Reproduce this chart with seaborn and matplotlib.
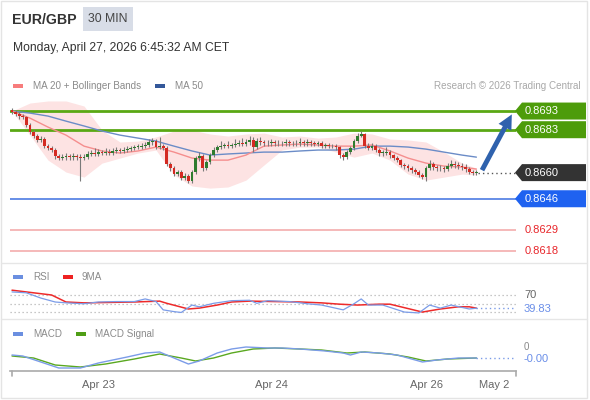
import numpy as np
import pandas as pd
import matplotlib
matplotlib.use("Agg")
import matplotlib.pyplot as plt
import seaborn as sns
from matplotlib.patches import Polygon, Rectangle, FancyArrowPatch
from matplotlib.lines import Line2D

# ---------------- data ----------------
close = [
    0.86925, 0.86914, 0.86903, 0.86898, 0.86855, 0.86818, 0.86796, 0.86775, 0.86780, 0.86742,
    0.86732, 0.86721, 0.86689, 0.86678, 0.86683, 0.86689, 0.86683, 0.86689, 0.86683, 0.86678,
    0.86683, 0.86700, 0.86705, 0.86700, 0.86710, 0.86705, 0.86710, 0.86705, 0.86716, 0.86721,
    0.86716, 0.86721, 0.86726, 0.86732, 0.86737, 0.86737, 0.86742, 0.86748, 0.86764, 0.86769,
    0.86737, 0.86742, 0.86732, 0.86646, 0.86624, 0.86592, 0.86603, 0.86571, 0.86582, 0.86555,
    0.86603, 0.86678, 0.86689, 0.86624, 0.86657, 0.86694, 0.86721, 0.86737, 0.86742, 0.86748,
    0.86742, 0.86748, 0.86753, 0.86758, 0.86753, 0.86764, 0.86775, 0.86737, 0.86769, 0.86764,
    0.86758, 0.86758, 0.86764, 0.86758, 0.86758, 0.86758, 0.86764, 0.86758, 0.86758, 0.86758,
    0.86764, 0.86758, 0.86764, 0.86758, 0.86753, 0.86758, 0.86742, 0.86748, 0.86742, 0.86742,
    0.86737, 0.86694, 0.86683, 0.86710, 0.86732, 0.86769, 0.86796, 0.86807, 0.86742, 0.86732,
    0.86742, 0.86721, 0.86705, 0.86705, 0.86710, 0.86694, 0.86678, 0.86667, 0.86641, 0.86635,
    0.86624, 0.86614, 0.86603, 0.86587, 0.86576, 0.86624, 0.86646, 0.86630, 0.86624, 0.86624,
    0.86619, 0.86635, 0.86646, 0.86641, 0.86635, 0.86630, 0.86619, 0.86603, 0.86598, 0.86600,
]
first_open = 0.86935
high = [
    0.86945, 0.86935, 0.86925, 0.86915, 0.86905, 0.86865, 0.86830, 0.86805, 0.86795, 0.86790,
    0.86755, 0.86745, 0.86730, 0.86700, 0.86700, 0.86705, 0.86700, 0.86705, 0.86700, 0.86700,
    0.86700, 0.86715, 0.86720, 0.86730, 0.86725, 0.86720, 0.86730, 0.86725, 0.86730, 0.86735,
    0.86730, 0.86735, 0.86740, 0.86745, 0.86750, 0.86755, 0.86760, 0.86765, 0.86780, 0.86785,
    0.86780, 0.86790, 0.86755, 0.86740, 0.86655, 0.86635, 0.86615, 0.86615, 0.86600, 0.86590,
    0.86615, 0.86690, 0.86710, 0.86700, 0.86670, 0.86705, 0.86735, 0.86750, 0.86770, 0.86760,
    0.86770, 0.86760, 0.86780, 0.86775, 0.86785, 0.86780, 0.86795, 0.86790, 0.86785, 0.86790,
    0.86775, 0.86775, 0.86780, 0.86775, 0.86775, 0.86770, 0.86780, 0.86775, 0.86770, 0.86775,
    0.86785, 0.86775, 0.86780, 0.86775, 0.86770, 0.86770, 0.86770, 0.86760, 0.86760, 0.86755,
    0.86755, 0.86745, 0.86705, 0.86720, 0.86745, 0.86780, 0.86810, 0.86825, 0.86815, 0.86760,
    0.86760, 0.86755, 0.86730, 0.86720, 0.86735, 0.86720, 0.86700, 0.86690, 0.86675, 0.86650,
    0.86645, 0.86635, 0.86625, 0.86615, 0.86600, 0.86635, 0.86665, 0.86655, 0.86640, 0.86640,
    0.86635, 0.86650, 0.86665, 0.86660, 0.86655, 0.86650, 0.86645, 0.86630, 0.86615, 0.86615,
]
low = [
    0.86915, 0.86905, 0.86890, 0.86885, 0.86845, 0.86805, 0.86785, 0.86765, 0.86765, 0.86730,
    0.86720, 0.86710, 0.86675, 0.86665, 0.86665, 0.86670, 0.86670, 0.86670, 0.86670, 0.86555,
    0.86665, 0.86675, 0.86690, 0.86690, 0.86690, 0.86695, 0.86695, 0.86695, 0.86695, 0.86705,
    0.86705, 0.86705, 0.86710, 0.86715, 0.86720, 0.86725, 0.86725, 0.86730, 0.86735, 0.86750,
    0.86725, 0.86725, 0.86720, 0.86635, 0.86610, 0.86580, 0.86580, 0.86560, 0.86560, 0.86545,
    0.86545, 0.86595, 0.86660, 0.86610, 0.86615, 0.86645, 0.86685, 0.86710, 0.86725, 0.86730,
    0.86730, 0.86730, 0.86735, 0.86740, 0.86740, 0.86740, 0.86750, 0.86710, 0.86725, 0.86750,
    0.86745, 0.86745, 0.86745, 0.86745, 0.86745, 0.86745, 0.86745, 0.86745, 0.86745, 0.86745,
    0.86745, 0.86745, 0.86745, 0.86745, 0.86740, 0.86740, 0.86730, 0.86730, 0.86730, 0.86730,
    0.86720, 0.86680, 0.86670, 0.86675, 0.86700, 0.86720, 0.86760, 0.86790, 0.86730, 0.86720,
    0.86720, 0.86710, 0.86690, 0.86690, 0.86695, 0.86680, 0.86665, 0.86655, 0.86630, 0.86620,
    0.86610, 0.86600, 0.86590, 0.86575, 0.86565, 0.86555, 0.86615, 0.86615, 0.86610, 0.86610,
    0.86605, 0.86610, 0.86625, 0.86625, 0.86620, 0.86615, 0.86605, 0.86590, 0.86585, 0.86585,
]

# indicator samples (candle index, value)
ind_idx = [0, 5, 10, 15, 20, 25, 30, 35, 40, 45, 50, 55, 60, 65, 70, 75, 80, 85, 90, 95,
           100, 105, 110, 115, 120, 125, 129]
ma20 = [0.86930, 0.86892, 0.86844, 0.86801, 0.86742, 0.86716, 0.86705, 0.86716, 0.86737, 0.86710,
        0.86678, 0.86667, 0.86667, 0.86694, 0.86742, 0.86748, 0.86753, 0.86748, 0.86742, 0.86742,
        0.86748, 0.86716, 0.86678, 0.86651, 0.86635, 0.86630, 0.86619]
bb_upper = [0.86930, 0.86973, 0.86984, 0.86984, 0.86957, 0.86828, 0.86764, 0.86769, 0.86791, 0.86823,
            0.86828, 0.86807, 0.86796, 0.86807, 0.86812, 0.86791, 0.86796, 0.86785, 0.86791, 0.86812,
            0.86807, 0.86780, 0.86775, 0.86764, 0.86710, 0.86651, 0.86624]
bb_lower = [0.86930, 0.86801, 0.86667, 0.86603, 0.86576, 0.86651, 0.86678, 0.86705, 0.86721, 0.86587,
            0.86528, 0.86517, 0.86523, 0.86560, 0.86641, 0.86721, 0.86737, 0.86737, 0.86710, 0.86683,
            0.86705, 0.86667, 0.86592, 0.86560, 0.86576, 0.86592, 0.86587]
ma50 = [0.86930, 0.86919, 0.86903, 0.86876, 0.86850, 0.86823, 0.86801, 0.86785, 0.86769, 0.86742,
        0.86716, 0.86694, 0.86700, 0.86705, 0.86710, 0.86710, 0.86716, 0.86721, 0.86721, 0.86726,
        0.86742, 0.86742, 0.86737, 0.86726, 0.86710, 0.86694, 0.86683]

rsi_idx = [0, 4, 8, 12, 15, 20, 24, 29, 34, 37, 40, 42, 45, 47, 50, 52, 56, 61, 66, 68,
           71, 77, 82, 86, 92, 95, 97, 99, 103, 109, 113, 116, 119, 122, 127, 129]
rsi = [77, 75, 63, 54, 52, 50, 54, 55, 55, 61, 55, 36, 32, 30, 47, 43, 51, 57, 58, 51,
       57, 55, 50, 47, 36, 50, 61, 47, 47, 31, 29, 47, 40, 47, 38, 39.83]
rsi_ma_idx = [0, 11, 15, 20, 34, 41, 43, 49, 52, 57, 61, 66, 80, 86, 91, 96, 102, 105, 114,
              119, 124, 127, 129]
rsi_ma = [81, 70, 54, 52, 54, 56, 51, 38, 40, 47, 54, 56, 54, 52, 49, 47, 49, 49, 31,
          38, 43, 43, 40]

macd_idx = [0, 3, 8, 13, 19, 24, 32, 37, 41, 45, 49, 52, 57, 61, 65, 71, 75, 80, 87, 92,
            94, 97, 102, 107, 114, 118, 124, 129]
macd = [-0.00012, -0.00014, -0.00026, -0.00038, -0.00038, -0.00028, -0.00016, -0.00008,
        -0.00006, -0.00018, -0.00030, -0.00024, -0.00008, 0.0, 0.00004, 0.00002, 0.00002,
        0.0, -0.00004, -0.00008, -0.00012, -0.00006, -0.00008, -0.00012, -0.00026, -0.00022,
        -0.00018, -0.00018]
sig_idx = [0, 6, 12, 19, 26, 34, 41, 47, 51, 56, 61, 67, 73, 80, 86, 93, 98, 105, 110,
           115, 121, 129]
macd_signal = [-0.00014, -0.00018, -0.00032, -0.00036, -0.00030, -0.00020, -0.00010,
               -0.00018, -0.00024, -0.00018, -0.00008, 0.0, 0.00002, 0.0, -0.00002,
               -0.00008, -0.00006, -0.00010, -0.00016, -0.00024, -0.00020, -0.00018]

levels_res = [0.8693, 0.8683]
level_last = 0.8660
level_sup = 0.8646
levels_red = [0.8629, 0.8618]
rsi_levels = [70, 50, 30]
rsi_last_label = "39.83"
macd_last_label = "-0.00"
date_ticks = [24, 72, 115, 134]
date_labels = ["Apr 23", "Apr 24", "Apr 26", "May 2"]
target = 0.86925

# ---------------- figure ----------------
sns.set_theme(style="white")
plt.rcParams['font.family'] = ['Liberation Sans', 'DejaVu Sans']

W, H = 590, 400
fig = plt.figure(figsize=(W / 100, H / 100), dpi=100)
fig.patch.set_facecolor('white')

def fx(x):
    return x / W

def fy(y):
    return 1 - y / H

X0, DX = 12, 3.6
XL, XR = 10, 516
xlim = ((XL - X0) / DX, (XR - X0) / DX)

def add_axes(ytop, ybot):
    ax = fig.add_axes([fx(XL), fy(ybot), (XR - XL) / W, (ybot - ytop) / H])
    ax.set_xlim(*xlim)
    ax.patch.set_alpha(0)
    for s in ax.spines.values():
        s.set_visible(False)
    ax.set_xticks([])
    ax.set_yticks([])
    ax.grid(False)
    return ax

GREEN = '#4d9c0a'
RED_C = '#d42a22'
GREEN_C = '#2f7c2f'

# frame and separators
fig.add_artist(Rectangle((fx(0.5), fy(398)), (587 - 0.5) / W, (398 - 1) / H,
                         transform=fig.transFigure, fill=False, ec='#e4e4e4', lw=1))
for ysep in (262.5, 319):
    fig.add_artist(Line2D([fx(0.5), fx(587)], [fy(ysep), fy(ysep)],
                          transform=fig.transFigure, color='#e6e6e6', lw=1))

# header
fig.text(fx(12), fy(19.5), "EUR/GBP", fontsize=10.2, fontweight='bold', color='#333333',
         va='center', ha='left')
fig.add_artist(Rectangle((fx(83), fy(31)), 50 / W, 24 / H, transform=fig.transFigure,
                         color='#d8dde7', lw=0))
fig.text(fx(108), fy(19), "30 MIN", fontsize=8.8, color='#444444', va='center', ha='center')
fig.text(fx(13), fy(48), "Monday, April 27, 2026 6:45:32 AM CET", fontsize=8.7,
         color='#333333', va='center', ha='left')

def legend_item(x, y, color, text, textx):
    fig.add_artist(Rectangle((fx(x), fy(y + 2)), 10 / W, 4 / H, transform=fig.transFigure,
                             color=color, lw=0))
    fig.text(fx(textx), fy(y), text, fontsize=7.1, color='#8a8a8a', va='center', ha='left')

legend_item(13, 86, '#f77c7c', "MA 20 + Bollinger Bands", 33)
legend_item(155, 86, '#34589a', "MA 50", 175)
fig.text(fx(581), fy(86), "Research \u00a9 2026 Trading Central", fontsize=7.1,
         color='#a8a8a8', va='center', ha='right')
legend_item(13, 277, '#6b8fe0', "RSI", 33)
legend_item(63, 277, '#ee2222', "9MA", 82)
legend_item(13, 334, '#6b8fe0', "MACD", 33)
legend_item(76, 334, '#4f9e16', "MACD Signal", 95)

# ---------------- price panel ----------------
ax = add_axes(95, 262)
ax.set_ylim(0.86121, 0.87016)

n = len(close)
idx = np.arange(n)
opens = [first_open] + close[:-1]

ind = pd.DataFrame({'i': ind_idx, 'ma20': ma20, 'up': bb_upper, 'lo': bb_lower, 'ma50': ma50})
ax.fill_between(ind['i'], ind['lo'], ind['up'], color='#fde3e3', lw=0, zorder=1)

for lv in levels_res:
    ax.axhline(lv, color='#5aa814', lw=2, zorder=2)
ax.axhline(level_sup, color='#5b86e5', lw=1.3, zorder=2)
for lv in levels_red:
    ax.axhline(lv, color='#f5b3b3', lw=1.3, zorder=2)

sns.lineplot(data=ind, x='i', y='ma50', ax=ax, color='#6b8cc7', lw=1, zorder=3,
             estimator=None, sort=False)
sns.lineplot(data=ind, x='i', y='ma20', ax=ax, color='#f58e8e', lw=1, zorder=3,
             estimator=None, sort=False)

cols = [GREEN_C if c >= o else RED_C for o, c in zip(opens, close)]
ax.vlines(idx, low, high, color='#7a7a7a', lw=0.8, zorder=4)
bottoms = np.minimum(opens, close)
heights = np.maximum(np.abs(np.array(close) - np.array(opens)), 0.00003)
ax.bar(idx, heights, bottom=bottoms, width=0.78, color=cols, lw=0, zorder=5)

# dotted extension
ax.plot([n - 1 + 0.5, xlim[1]], [level_last, level_last], color='#555555', lw=1,
        ls=(0, (1, 2.2)), zorder=3)

# arrow
arr = FancyArrowPatch((n + 0.2, level_last), (139.2, target),
                      arrowstyle="simple,head_length=0.95,head_width=0.95,tail_width=0.32",
                      mutation_scale=11, color='#2f62ad', lw=0, zorder=6)
ax.add_patch(arr)

ax.set_xlabel('')
ax.set_ylabel('')

# badges
fig.canvas.draw()

def ypx(a, v):
    return H - a.transData.transform((0, v))[1]

def badge(price, color, text):
    y = ypx(ax, price)
    h = 8.5
    pts = [(515, y), (522, y - h), (586, y - h), (586, y + h), (522, y + h)]
    fig.add_artist(Polygon([(fx(px), fy(py)) for px, py in pts], closed=True,
                           transform=fig.transFigure, color=color, lw=0))
    fig.text(fx(525), fy(y), text, fontsize=8, color='white', va='center', ha='left')

badge(levels_res[0], GREEN, f"{levels_res[0]:.4f}")
badge(levels_res[1], GREEN, f"{levels_res[1]:.4f}")
badge(level_last, '#333333', f"{level_last:.4f}")
badge(level_sup, '#1f62f0', f"{level_sup:.4f}")
for lv in levels_red:
    fig.text(fx(525), fy(ypx(ax, lv)), f"{lv:.4f}", fontsize=8, color='#e8262b',
             va='center', ha='left')

# ---------------- RSI panel ----------------
ax2 = add_axes(280, 318)
ax2.set_ylim(17.4, 104.3)
for lv in rsi_levels:
    ax2.axhline(lv, color='#b5b5b5', lw=0.9, ls=(0, (1, 2.2)), zorder=1)
rdf = pd.DataFrame({'i': rsi_idx, 'v': rsi})
mdf = pd.DataFrame({'i': rsi_ma_idx, 'v': rsi_ma})
sns.lineplot(data=mdf, x='i', y='v', ax=ax2, color='#ee2a2a', lw=1.1, zorder=2,
             estimator=None, sort=False)
sns.lineplot(data=rdf, x='i', y='v', ax=ax2, color='#7b9ce8', lw=0.9, zorder=3,
             estimator=None, sort=False)
ax2.plot([rsi_idx[-1], xlim[1]], [rsi[-1], rsi[-1]], color='#7b9ce8', lw=1,
         ls=(0, (1, 2.2)))
ax2.set_xlabel('')
ax2.set_ylabel('')
fig.canvas.draw()
fig.text(fx(524), fy(ypx(ax2, 70)), "70", fontsize=8, color='#666666', va='center', ha='left')
fig.text(fx(524), fy(ypx(ax2, rsi[-1]) + 0.5), rsi_last_label, fontsize=8, color='#6a8ee8',
         va='center', ha='left')

# ---------------- MACD panel ----------------
ax3 = add_axes(340, 371)
ax3.set_ylim(-0.00044, 0.00018)
adf = pd.DataFrame({'i': macd_idx, 'v': macd})
sdf = pd.DataFrame({'i': sig_idx, 'v': macd_signal})
sns.lineplot(data=adf, x='i', y='v', ax=ax3, color='#7b9ce8', lw=1, zorder=3,
             estimator=None, sort=False)
sns.lineplot(data=sdf, x='i', y='v', ax=ax3, color='#5aa820', lw=1, zorder=2,
             estimator=None, sort=False)
ax3.plot([macd_idx[-1], xlim[1]], [macd[-1], macd[-1]], color='#7b9ce8', lw=1,
         ls=(0, (1, 2.2)))
ax3.spines['bottom'].set_visible(True)
ax3.spines['bottom'].set_color('#aaaaaa')
ax3.spines['bottom'].set_linewidth(1.2)
ax3.set_xticks(date_ticks)
ax3.set_xticklabels(date_labels)
ax3.tick_params(axis='x', length=0, pad=6.5, labelsize=8, labelcolor='#666666')
ax3.set_xlabel('')
ax3.set_ylabel('')
for xe in (XL + 1.5, XR):
    fig.add_artist(Line2D([fx(xe), fx(xe)], [fy(371), fy(376)], transform=fig.transFigure,
                          color='#aaaaaa', lw=1.2))
fig.canvas.draw()
fig.text(fx(524), fy(ypx(ax3, 0.0) - 1.5), "0", fontsize=7, color='#888888', va='center',
         ha='left')
fig.text(fx(524), fy(ypx(ax3, macd[-1]) + 1.5), macd_last_label, fontsize=8, color='#6a8ee8',
         va='center', ha='left')

fig.savefig("out.png", dpi=100, facecolor='white')
